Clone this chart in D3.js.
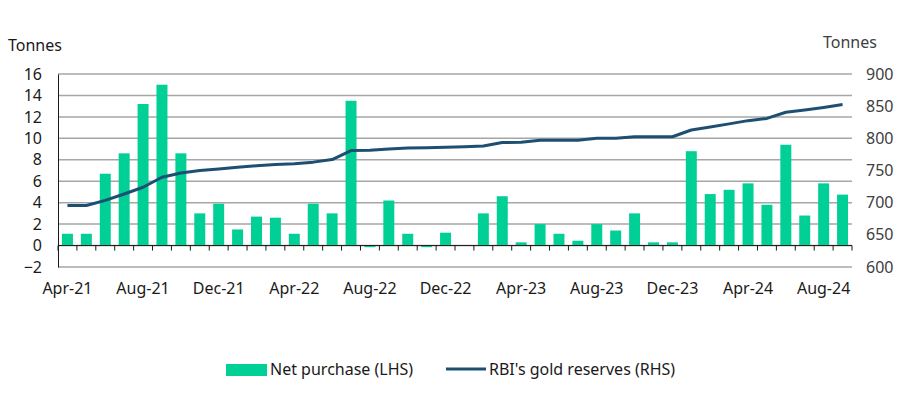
<!DOCTYPE html>
<html>
<head>
<meta charset="utf-8">
<script src="https://cdn.jsdelivr.net/npm/d3@7"></script>
<style>
  body { margin: 0; background: #fff; }
  text { font-family: "Noto Sans", "Open Sans", sans-serif; fill: #1a1a1a; }
</style>
</head>
<body>
<div id="chart"></div>
<script>
// chart size and plot area
const width = 910;
const height = 399;
const margin = {left: 58, right: 58, top: 74, bottom: 132};

// months Apr-21 .. Sep-24
const months = ["Apr-21","May-21","Jun-21","Jul-21","Aug-21","Sep-21","Oct-21","Nov-21","Dec-21","Jan-22","Feb-22","Mar-22",
  "Apr-22","May-22","Jun-22","Jul-22","Aug-22","Sep-22","Oct-22","Nov-22","Dec-22","Jan-23","Feb-23","Mar-23",
  "Apr-23","May-23","Jun-23","Jul-23","Aug-23","Sep-23","Oct-23","Nov-23","Dec-23","Jan-24","Feb-24","Mar-24",
  "Apr-24","May-24","Jun-24","Jul-24","Aug-24","Sep-24"];

// net purchase, tonnes (LHS)
const netPurchase = [1.1, 1.1, 6.7, 8.6, 13.2, 15.0, 8.6, 3.0, 3.9, 1.5, 2.7, 2.6,
  1.1, 3.9, 3.0, 13.5, -0.15, 4.2, 1.1, -0.15, 1.2, 0, 3.0, 4.6,
  0.3, 2.0, 1.1, 0.45, 2.0, 1.4, 3.0, 0.3, 0.3, 8.8, 4.8, 5.2,
  5.8, 3.8, 9.4, 2.8, 5.8, 4.75];

// RBI's gold reserves, tonnes (RHS)
const reserves = [695.5, 695.5, 703.5, 713.5, 724, 739.5, 746, 750, 752.5, 755, 757.5, 759.5,
  760.5, 763, 767, 781, 781.5, 783.5, 785, 785.5, 786, 787, 788, 793.5,
  794, 797, 797, 797, 800, 800, 802.5, 802.5, 802.5, 813, 817.5, 822.5,
  827.5, 831, 840.5, 844, 848, 852.5];

const leftTicks = [-2, 0, 2, 4, 6, 8, 10, 12, 14, 16];
const rightTicks = [600, 650, 700, 750, 800, 850, 900];
const labelMonths = ["Apr-21","Aug-21","Dec-21","Apr-22","Aug-22","Dec-22","Apr-23","Aug-23","Dec-23","Apr-24","Aug-24"];

const barColor = "#00cf96";
const lineColor = "#1d4f73";
const gridColor = "#a6a6a6";

const svg = d3.select("#chart")
  .append("svg")
  .attr("width", width)
  .attr("height", height);

const x = d3.scaleBand()
  .domain(months)
  .range([margin.left, width - margin.right])
  .paddingInner(0.42)
  .paddingOuter(0.21);

const yL = d3.scaleLinear()
  .domain([-2, 16])
  .range([height - margin.bottom, margin.top]);

const yR = d3.scaleLinear()
  .domain([600, 900])
  .range([height - margin.bottom, margin.top]);

// gridlines
svg.append("g")
  .selectAll("line")
  .data(leftTicks)
  .join("line")
    .attr("x1", margin.left)
    .attr("x2", width - margin.right)
    .attr("y1", d => yL(d))
    .attr("y2", d => yL(d))
    .attr("stroke", gridColor)
    .attr("stroke-width", 1.5);

// left axis
svg.append("g")
  .attr("transform", `translate(${margin.left},0)`)
  .call(d3.axisLeft(yL).tickValues(leftTicks).tickSize(0).tickPadding(16))
  .call(g => g.select(".domain").attr("stroke", "#1a1a1a"))
  .call(g => g.selectAll("text").attr("font-size", "16px"));

// right axis (labels only)
svg.append("g")
  .attr("transform", `translate(${width - margin.right},0)`)
  .call(d3.axisRight(yR).tickValues(rightTicks).tickSize(0).tickPadding(14))
  .call(g => g.select(".domain").remove())
  .call(g => g.selectAll("text").attr("font-size", "16px").style("fill", "#404040"));

// bars
svg.append("g")
  .selectAll("rect")
  .data(netPurchase)
  .join("rect")
    .attr("x", (d, i) => x(months[i]))
    .attr("y", d => yL(Math.max(0, d)))
    .attr("width", x.bandwidth())
    .attr("height", d => Math.abs(yL(d) - yL(0)))
    .attr("fill", barColor);

// zero line with ticks at month boundaries
const step = x.step();
svg.append("line")
  .attr("x1", margin.left)
  .attr("x2", width - margin.right)
  .attr("y1", yL(0))
  .attr("y2", yL(0))
  .attr("stroke", "#1a1a1a")
  .attr("stroke-width", 1);

svg.append("g")
  .selectAll("line")
  .data(d3.range(months.length + 1))
  .join("line")
    .attr("x1", i => margin.left + i * step)
    .attr("x2", i => margin.left + i * step)
    .attr("y1", yL(0))
    .attr("y2", yL(0) + 5)
    .attr("stroke", "#1a1a1a");

// x labels
svg.append("g")
  .selectAll("text")
  .data(labelMonths)
  .join("text")
    .attr("x", d => x(d) + x.bandwidth() / 2)
    .attr("y", yL(-2) + 27)
    .attr("text-anchor", "middle")
    .attr("font-size", "16px")
    .text(d => d);

// reserves line
const line = d3.line()
  .x((d, i) => x(months[i]) + x.bandwidth() / 2)
  .y(d => yR(d));

svg.append("path")
  .datum(reserves)
  .attr("d", line)
  .attr("fill", "none")
  .attr("stroke", lineColor)
  .attr("stroke-width", 3)
  .attr("stroke-linejoin", "round");

// axis titles
svg.append("text")
  .attr("x", 8)
  .attr("y", 51)
  .attr("font-size", "16px")
  .text("Tonnes");

svg.append("text")
  .attr("x", 823)
  .attr("y", 48)
  .attr("font-size", "16px")
  .style("fill", "#404040")
  .text("Tonnes");

// legend
const legend = svg.append("g");
legend.append("rect")
  .attr("x", 226).attr("y", 364)
  .attr("width", 41).attr("height", 12)
  .attr("fill", barColor);
legend.append("text")
  .attr("x", 270).attr("y", 375)
  .attr("font-size", "16px")
  .text("Net purchase (LHS)");
legend.append("line")
  .attr("x1", 446).attr("x2", 486)
  .attr("y1", 369).attr("y2", 369)
  .attr("stroke", lineColor)
  .attr("stroke-width", 3);
legend.append("text")
  .attr("x", 489).attr("y", 375)
  .attr("font-size", "16px")
  .text("RBI's gold reserves (RHS)");
</script>
</body>
</html>
